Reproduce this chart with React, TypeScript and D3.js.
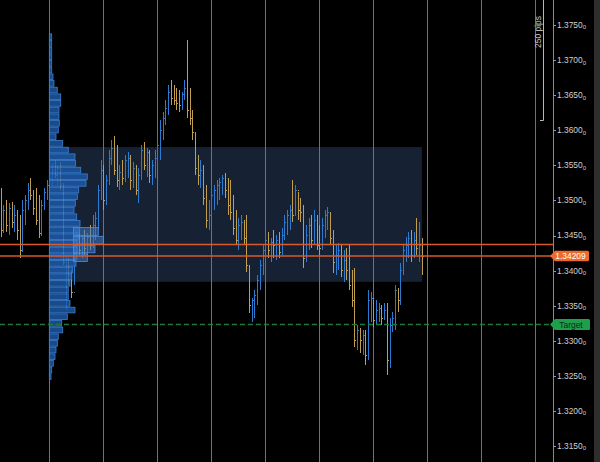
import React from "react";
import * as d3 from "d3";

// ---- price bars (H1-like), open = previous close ----
const firstOpen = 1.3508;
const highs = [
  1.3518, 1.3493, 1.3501, 1.3496, 1.3498, 1.3493, 1.3486, 1.3479, 1.3501, 1.3508,
  1.3525, 1.3532, 1.3515, 1.3518, 1.3508, 1.3501, 1.3518, 1.3529, 1.3541, 1.3553,
  1.3558, 1.3551, 1.3555, 1.3525, 1.3422, 1.3418, 1.3401, 1.3436, 1.3455, 1.3461,
  1.3451, 1.3458, 1.3454, 1.3465, 1.3479, 1.3484, 1.3522, 1.3558, 1.3551, 1.3536,
  1.3572, 1.3586, 1.3592, 1.3579, 1.3551, 1.3558, 1.3565, 1.3569, 1.3565, 1.3555,
  1.3551, 1.3546, 1.3579, 1.3583, 1.3575, 1.3572, 1.3558, 1.3572, 1.3586, 1.3615,
  1.3626, 1.3643, 1.3665, 1.3672, 1.3665, 1.3660, 1.3657, 1.3655, 1.3672, 1.3729,
  1.3660, 1.3629, 1.3598, 1.3565, 1.3558, 1.3551, 1.3522, 1.3501, 1.3515, 1.3522,
  1.3529, 1.3532, 1.3536, 1.3539, 1.3532, 1.3529, 1.3508, 1.3486, 1.3475, 1.3479,
  1.3472, 1.3479, 1.3408, 1.3361, 1.3372, 1.3394, 1.3415, 1.3436, 1.3451, 1.3455,
  1.3446, 1.3458, 1.3451, 1.3455, 1.3461, 1.3479, 1.3486, 1.3493, 1.3529, 1.3522,
  1.3512, 1.3503, 1.3493, 1.3465, 1.3475, 1.3479, 1.3486, 1.3479, 1.3465, 1.3475,
  1.3486, 1.3491, 1.3484, 1.3458, 1.3436, 1.3439, 1.3436, 1.3429, 1.3432, 1.3436,
  1.3401, 1.3404, 1.3322, 1.3318, 1.3315, 1.3315, 1.3372, 1.3370, 1.3358, 1.3358,
  1.3354, 1.3351, 1.3354, 1.3354, 1.3332, 1.3341, 1.3379, 1.3375, 1.3411, 1.3436,
  1.3448, 1.3455, 1.3458, 1.3455, 1.3475, 1.3469, 1.3446,
];
const lows = [
  1.3448, 1.3454, 1.3455, 1.3451, 1.3461, 1.3455, 1.3444, 1.3418, 1.3427, 1.3465,
  1.3486, 1.3501, 1.3479, 1.3465, 1.3446, 1.3449, 1.3486, 1.3501, 1.3508, 1.3522,
  1.3532, 1.3522, 1.3515, 1.3408, 1.3344, 1.3379, 1.3361, 1.3379, 1.3418, 1.3422,
  1.3418, 1.3422, 1.3419, 1.3429, 1.3432, 1.3444, 1.3458, 1.3501, 1.3486, 1.3493,
  1.3522, 1.3551, 1.3536, 1.3519, 1.3515, 1.3522, 1.3526, 1.3532, 1.3515, 1.3518,
  1.3508, 1.3496, 1.3529, 1.3543, 1.3533, 1.3525, 1.3522, 1.3532, 1.3543, 1.3558,
  1.3586, 1.3607, 1.3622, 1.3636, 1.3636, 1.3629, 1.3626, 1.3629, 1.3643, 1.3617,
  1.3607, 1.3586, 1.3536, 1.3522, 1.3518, 1.3493, 1.3461, 1.3458, 1.3479, 1.3486,
  1.3493, 1.3501, 1.3508, 1.3503, 1.3479, 1.3472, 1.3451, 1.3436, 1.3429, 1.3444,
  1.3436, 1.3398, 1.3340, 1.3327, 1.3332, 1.3351, 1.3372, 1.3394, 1.3412, 1.3418,
  1.3412, 1.3418, 1.3415, 1.3418, 1.3422, 1.3444, 1.3451, 1.3458, 1.3469, 1.3479,
  1.3472, 1.3469, 1.3404, 1.3412, 1.3429, 1.3432, 1.3436, 1.3429, 1.3422, 1.3429,
  1.3446, 1.3458, 1.3436, 1.3397, 1.3394, 1.3401, 1.3391, 1.3384, 1.3387, 1.3372,
  1.3348, 1.3291, 1.3287, 1.3283, 1.3280, 1.3265, 1.3273, 1.3327, 1.3320, 1.3322,
  1.3327, 1.3322, 1.3330, 1.3251, 1.3261, 1.3312, 1.3315, 1.3341, 1.3351, 1.3394,
  1.3412, 1.3418, 1.3412, 1.3418, 1.3422, 1.3412, 1.3394,
];
const closes = [
  1.3458, 1.3486, 1.3465, 1.3489, 1.3469, 1.3479, 1.3458, 1.3429, 1.3486, 1.3501,
  1.3515, 1.3508, 1.3489, 1.3472, 1.3454, 1.3493, 1.3512, 1.3522, 1.3532, 1.3543,
  1.3536, 1.3546, 1.3522, 1.3412, 1.3418, 1.3394, 1.3370, 1.3429, 1.3444, 1.3429,
  1.3446, 1.3432, 1.3448, 1.3436, 1.3465, 1.3475, 1.3515, 1.3543, 1.3501, 1.3529,
  1.3560, 1.3575, 1.3543, 1.3529, 1.3541, 1.3532, 1.3558, 1.3560, 1.3529, 1.3546,
  1.3515, 1.3536, 1.3572, 1.3551, 1.3569, 1.3536, 1.3551, 1.3560, 1.3579, 1.3600,
  1.3617, 1.3632, 1.3655, 1.3646, 1.3643, 1.3639, 1.3636, 1.3652, 1.3660, 1.3629,
  1.3617, 1.3598, 1.3546, 1.3536, 1.3543, 1.3503, 1.3472, 1.3479, 1.3508, 1.3515,
  1.3522, 1.3526, 1.3532, 1.3515, 1.3493, 1.3484, 1.3461, 1.3444, 1.3465, 1.3469,
  1.3446, 1.3408, 1.3351, 1.3358, 1.3365, 1.3387, 1.3408, 1.3429, 1.3444, 1.3429,
  1.3441, 1.3436, 1.3444, 1.3427, 1.3451, 1.3469, 1.3479, 1.3486, 1.3479, 1.3515,
  1.3486, 1.3484, 1.3418, 1.3451, 1.3465, 1.3444, 1.3472, 1.3436, 1.3432, 1.3465,
  1.3479, 1.3484, 1.3446, 1.3412, 1.3422, 1.3429, 1.3401, 1.3415, 1.3401, 1.3379,
  1.3358, 1.3301, 1.3315, 1.3301, 1.3308, 1.3280, 1.3358, 1.3361, 1.3330, 1.3344,
  1.3347, 1.3332, 1.3344, 1.3273, 1.3322, 1.3332, 1.3372, 1.3358, 1.3401, 1.3429,
  1.3436, 1.3446, 1.3422, 1.3444, 1.3432, 1.3436, 1.3421,
];

// ---- volume profile (rows from the top, price step per row) ----
const profileTop = 1.3738;
const profileStep = 0.00095;
const profileVolumes = [
  24, 24, 24, 24, 24, 24, 37, 47, 80, 114, 114, 97, 97, 100, 90, 67, 134, 190, 257, 262,
  314, 380, 367, 294, 280, 260, 247, 274, 307, 300, 290, 285, 280, 275, 267, 234, 224, 207, 190, 190,
  207, 257, 180, 124, 134, 90, 80, 67, 57, 40, 24, 17,
];
const sessionTop = 1.3462;
const sessionStep = 0.001245;
const sessionStartBar = 27;
const sessionVolumes = [247, 297, 214, 137];

// ---- levels ----
const boxStartBar = 18;
const boxEndBar = 156;
const boxHigh = 1.3576;
const boxLow = 1.3384;
const orangeLevels = [1.3437, 1.34209];
const lastPrice = 1.34209;
const targetPrice = 1.3323;
const priceTicks = [1.375, 1.37, 1.365, 1.36, 1.355, 1.35, 1.345, 1.34, 1.335, 1.33, 1.325, 1.32, 1.315];
const dayStarts = [18, 38, 58, 78, 98, 118, 138, 158, 178, 198];

const W = 600;
const H = 462;
const AXIS_X = 553;
const FONT = "'Liberation Sans', Arial, sans-serif";
const BLUE = "#2c7bd2";
const GOLD = "#bf9f4e";

function tagPath(x0: number, yc: number, w: number, h: number) {
  const hh = h / 2;
  return `M${x0},${yc} L${x0 + 5},${yc - hh} L${x0 + w - 1.5},${yc - hh} Q${x0 + w},${yc - hh} ${x0 + w},${yc - hh + 1.5} L${x0 + w},${yc + hh - 1.5} Q${x0 + w},${yc + hh} ${x0 + w - 1.5},${yc + hh} L${x0 + 5},${yc + hh} Z`;
}

export default function App() {
  const x = d3.scaleLinear().domain([18, 38]).range([49.3, 103.3]);
  const y = d3.scaleLinear().domain([1.375, 1.315]).range([25, 446]);
  const vol = d3.scaleLinear().domain([0, 540]).range([0, 54]);
  const fmt = d3.format(".4f");
  const fmt5 = d3.format(".5f");

  const bars = closes.map((c, i) => {
    const o = i === 0 ? firstOpen : closes[i - 1];
    return { i, o, h: highs[i], l: lows[i], c, up: c >= o };
  });

  const profX0 = x(18);

  return (
    <svg
      width={W}
      height={H}
      style={{ position: "absolute", left: 0, top: 0, display: "block", background: "#000" }}
    >
      <rect x={0} y={0} width={W} height={H} fill="#000" />
      {/* value area box */}
      <rect
        x={x(boxStartBar)}
        y={y(boxHigh)}
        width={x(boxEndBar) - x(boxStartBar)}
        height={y(boxLow) - y(boxHigh)}
        fill="rgba(62,92,140,0.36)"
      />
      {/* day separators */}
      {dayStarts.map((d) => (
        <line
          key={d}
          x1={Math.round(x(d)) + 0.5}
          x2={Math.round(x(d)) + 0.5}
          y1={0}
          y2={H}
          stroke="#727272"
          strokeWidth={1}
        />
      ))}
      {/* price bars */}
      <g shapeRendering="crispEdges">
        {bars.map((b) => {
          const cx = Math.round(x(b.i)) + 0.5;
          const col = b.up ? BLUE : GOLD;
          return (
            <g key={b.i} stroke={col} strokeWidth={1}>
              <line x1={cx} x2={cx} y1={y(b.h)} y2={y(b.l)} />
              <line x1={cx - 1} x2={cx} y1={Math.round(y(b.o)) + 0.5} y2={Math.round(y(b.o)) + 0.5} />
              <line x1={cx} x2={cx + 1} y1={Math.round(y(b.c)) + 0.5} y2={Math.round(y(b.c)) + 0.5} />
            </g>
          );
        })}
      </g>
      {/* volume profile */}
      <g>
        {profileVolumes.map((v, i) => {
          const top = y(profileTop - i * profileStep);
          const bot = y(profileTop - (i + 1) * profileStep);
          return (
            <rect
              key={i}
              x={profX0}
              y={top + 0.5}
              width={vol(v)}
              height={bot - top - 1}
              fill="rgba(30,92,175,0.8)"
              stroke="#3b80d0"
              strokeWidth={0.8}
            />
          );
        })}
        {sessionVolumes.map((v, i) => {
          const top = y(sessionTop - i * sessionStep);
          const bot = y(sessionTop - (i + 1) * sessionStep);
          return (
            <rect
              key={"s" + i}
              x={x(sessionStartBar)}
              y={top + 0.5}
              width={vol(v)}
              height={bot - top - 1}
              fill="rgba(60,120,200,0.55)"
              stroke="#5090d8"
              strokeWidth={0.8}
            />
          );
        })}
      </g>
      {/* orange levels */}
      {orangeLevels.map((p) => (
        <line key={p} x1={0} x2={AXIS_X} y1={y(p)} y2={y(p)} stroke="#d95a2b" strokeWidth={1.5} />
      ))}
      {/* target */}
      <line
        x1={0}
        x2={AXIS_X}
        y1={y(targetPrice)}
        y2={y(targetPrice)}
        stroke="#1d7a3c"
        strokeWidth={1.5}
        strokeDasharray="5,3"
      />
      {/* 250 pips ruler */}
      <line x1={543.5} x2={543.5} y1={0} y2={120.5} stroke="#b8b8b8" strokeWidth={1} />
      <line x1={540} x2={543.5} y1={120.5} y2={120.5} stroke="#b8b8b8" strokeWidth={1} />
      <text
        transform="translate(540.5,32) rotate(-90)"
        textAnchor="middle"
        fontFamily={FONT}
        fontSize={8.5}
        fill="#c8c8c8"
      >
        250 pips
      </text>
      {/* price axis */}
      <line x1={AXIS_X + 0.5} x2={AXIS_X + 0.5} y1={0} y2={H} stroke="#8a8a8a" strokeWidth={1} />
      <rect x={594} y={0} width={6} height={H} fill="#2e2e2e" />
      {priceTicks.map((t) => (
        <g key={t}>
          <line x1={AXIS_X} x2={AXIS_X + 3} y1={Math.round(y(t)) + 0.5} y2={Math.round(y(t)) + 0.5} stroke="#9a9a9a" />
          <text
            x={557}
            y={y(t)}
            dy="0.35em"
            fontFamily={FONT}
            fontSize={8.4}
            fill="#cfcfcf"
          >
            {fmt(t)}
            <tspan fontSize={6} dy="1.5">0</tspan>
          </text>
        </g>
      ))}
      {/* last price tag */}
      <path d={tagPath(550, y(lastPrice), 39, 10.5)} fill="#ee6a2c" />
      <text
        x={570.5}
        y={y(lastPrice)}
        dy="0.35em"
        textAnchor="middle"
        fontFamily={FONT}
        fontSize={8.4}
        fill="#ffffff"
      >
        {fmt5(lastPrice)}
      </text>
      {/* target tag */}
      <path d={tagPath(550, y(targetPrice), 40, 11)} fill="#1f9e4c" />
      <text
        x={571}
        y={y(targetPrice)}
        dy="0.35em"
        textAnchor="middle"
        fontFamily={FONT}
        fontSize={8.4}
        fill="#0c2a16"
      >
        Target
      </text>
    </svg>
  );
}
